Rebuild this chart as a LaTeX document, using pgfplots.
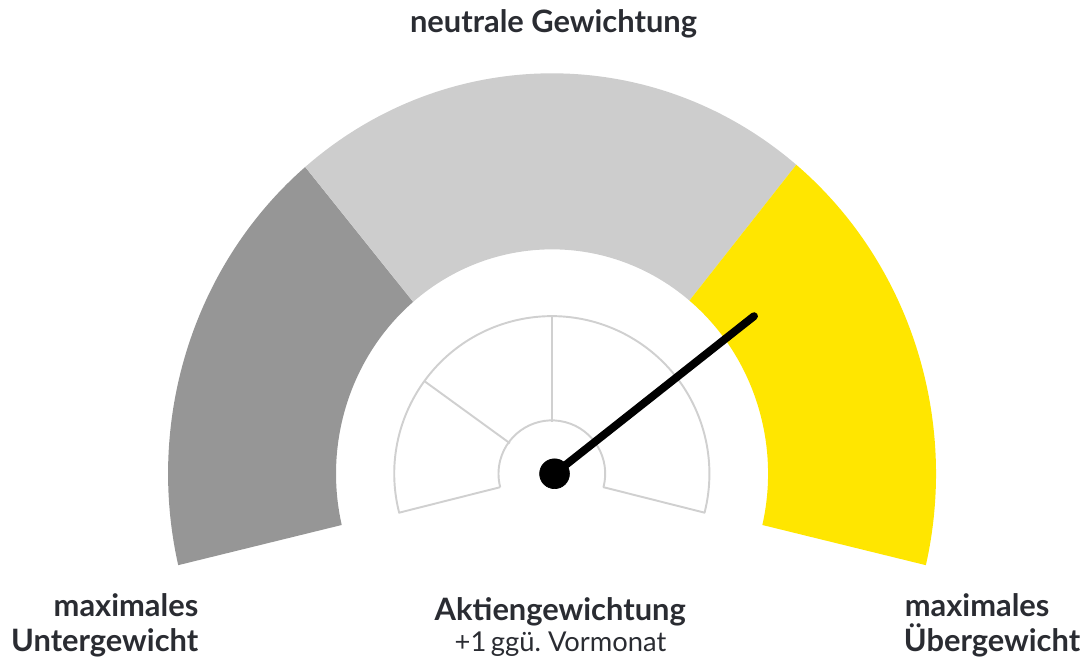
\documentclass[border=0pt]{standalone}
\usepackage{pgfplots}
\pgfplotsset{compat=1.18}
\usepackage{fontspec}
\setmainfont{Lato}
\definecolor{darkg}{RGB}{150,150,150}
\definecolor{lightg}{RGB}{205,205,205}
\definecolor{gyellow}{RGB}{255,230,0}
\definecolor{gline}{RGB}{208,208,208}
\definecolor{txt}{RGB}{42,44,50}
\begin{document}
\begin{tikzpicture}
\begin{axis}[x=1cm, y=1cm, xmin=0, xmax=21.72, ymin=0, ymax=13.22,
  hide axis, clip=false, scale only axis]
\path (axis cs:0,0) rectangle (axis cs:21.72,13.22);
% bands (outer ellipse 7.70 x 8.03, inner 4.332 x 4.50, centre 11.07,3.72)
\fill[darkg] ([shift={(193.2:7.70cm and 8.03cm)}]axis cs:11.07,3.72)
  arc[start angle=193.2, end angle=130, x radius=7.70cm, y radius=8.03cm]
  -- ([shift={(130:4.332cm and 4.5cm)}]axis cs:11.07,3.72)
  arc[start angle=130, end angle=193.2, x radius=4.332cm, y radius=4.5cm] -- cycle;
\fill[lightg] ([shift={(130:7.70cm and 8.03cm)}]axis cs:11.07,3.72)
  arc[start angle=130, end angle=50.5, x radius=7.70cm, y radius=8.03cm]
  -- ([shift={(50.5:4.332cm and 4.5cm)}]axis cs:11.07,3.72)
  arc[start angle=50.5, end angle=130, x radius=4.332cm, y radius=4.5cm] -- cycle;
\fill[gyellow] ([shift={(50.5:7.70cm and 8.03cm)}]axis cs:11.07,3.72)
  arc[start angle=50.5, end angle=-13.2, x radius=7.70cm, y radius=8.03cm]
  -- ([shift={(-13.2:4.332cm and 4.5cm)}]axis cs:11.07,3.72)
  arc[start angle=-13.2, end angle=50.5, x radius=4.332cm, y radius=4.5cm] -- cycle;
% inner scale
\draw[gline, line width=1.1pt, line join=round]
  ([shift={(194.6:1.07cm)}]axis cs:11.066,3.72)
  -- ([shift={(194.3:3.16cm)}]axis cs:11.066,3.72)
  arc[start angle=194.3, end angle=-14.3, radius=3.16cm]
  -- ([shift={(-14.6:1.07cm)}]axis cs:11.066,3.72)
  arc[start angle=-14.6, end angle=194.6, radius=1.07cm];
\draw[gline, line width=1.1pt]
  ([shift={(144:1.04cm)}]axis cs:11.066,3.72) -- ([shift={(144:3.16cm)}]axis cs:11.066,3.72);
\draw[gline, line width=1.1pt]
  ([shift={(90:1.04cm)}]axis cs:11.066,3.72) -- ([shift={(90:3.16cm)}]axis cs:11.066,3.72);
\draw[gline, line width=1.1pt]
  ([shift={(37:1.04cm)}]axis cs:11.066,3.72) -- ([shift={(37:3.16cm)}]axis cs:11.066,3.72);
% needle (+1)
\addplot[black, line width=4.5pt, line cap=round] coordinates {(11.12,3.72) (15.12,6.88)};
\addplot[only marks, mark=*, mark size=8.5pt, black] coordinates {(11.12,3.72)};
% texts
\node[anchor=base, text=txt, font=\fontsize{17.6}{21}\selectfont\bfseries] at (axis cs:11.1,12.56) {neutrale Gewichtung};
\node[anchor=base east, text=txt, font=\fontsize{17.6}{21}\selectfont\bfseries] at (axis cs:4.1,0.86) {maximales};
\node[anchor=base east, text=txt, font=\fontsize{17.6}{21}\selectfont\bfseries] at (axis cs:4.1,0.16) {Untergewicht};
\node[anchor=base west, text=txt, font=\fontsize{17.6}{21}\selectfont\bfseries] at (axis cs:18.02,0.86) {maximales};
\node[anchor=base west, text=txt, font=\fontsize{17.6}{21}\selectfont\bfseries] at (axis cs:18.0,0.16) {Übergewicht};
\node[anchor=base, text=txt, font=\fontsize{17.6}{21}\selectfont\bfseries] at (axis cs:11.234,0.786) {Aktiengewichtung};
\node[anchor=base, text=txt, font=\fontsize{15.6}{19}\selectfont] at (axis cs:11.24,0.16) {+1\,ggü.~Vormonat};
\end{axis}
\end{tikzpicture}
\end{document}
